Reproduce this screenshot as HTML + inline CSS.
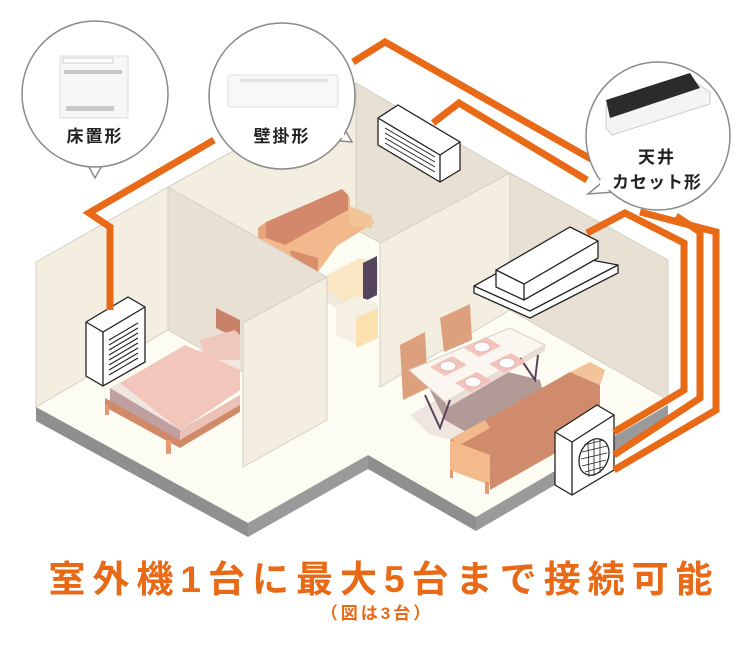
<!DOCTYPE html>
<html><head><meta charset="utf-8"><style>
body{margin:0;background:#fff;width:750px;height:650px;overflow:hidden}
svg{display:block}
.t{font-family:"Liberation Sans","Noto Sans CJK JP",sans-serif;font-weight:bold}
</style></head><body>
<svg width="750" height="650" viewBox="0 0 750 650" xmlns="http://www.w3.org/2000/svg">
<!-- floor -->
<polygon points="36,407 248,523 368,455 476,517 668,405 668,300 356,120 36,300" fill="#fdfcf3"/>
<!-- slab -->
<polygon points="36,407 248,523 248,537 36,421" fill="#8f8f8f"/>
<polygon points="248,523 368,455 368,469 248,537" fill="#9a9a9a"/>
<polygon points="368,455 476,517 476,531 368,469" fill="#8f8f8f"/>
<polygon points="476,517 668,405 668,419 476,531" fill="#9a9a9a"/>
<!-- walls -->
<polygon points="36,262 168,187 168,330 36,407" fill="#f4eee1" stroke="#d5d0c6" stroke-width="1"/>
<polygon points="168,187 356,83 356,230 168,330" fill="#f4eee1" stroke="#d5d0c6" stroke-width="1"/>
<polygon points="356,83 510,173 510,310 356,230" fill="#e8e0d2" stroke="#d5d0c6" stroke-width="1"/>
<polygon points="510,173 668,260 668,400 510,310" fill="#e8e0d2" stroke="#d5d0c6" stroke-width="1"/>
<!-- middle sofa -->
<polygon points="258,232 342,189 350,197 350,228 318,272 262,242" fill="#f3bb8c"/>
<polygon points="258,228 266,222 266,238 258,242" fill="#e8a47a"/>
<polygon points="266,222 342,189 348,195 348,210 285,245 266,238" fill="#d3886b"/>
<polygon points="285,245 348,212 375,222 318,258" fill="#f2b98d"/>
<polygon points="348,205 372,216 372,228 350,226" fill="#f3c496"/>
<polygon points="290,250 318,258 318,272 292,262" fill="#d88e6c"/>
<!-- tv area -->
<polygon points="327,275 360,258 378,262 378,290 342,305 327,295" fill="#fbe6c3"/>
<polygon points="327,290 342,300 342,312 327,302" fill="#efe9dc"/>
<polygon points="363,263 377,256 377,295 363,302" fill="#55455c"/>
<polygon points="336,306 356,296 378,303 378,335 356,344 336,335" fill="#f6efe3"/>
<polygon points="356,318 378,308 378,338 356,348" fill="#fbe0b0"/>
<!-- partition between middle and right -->
<polygon points="380,243 510,173 510,310 380,387" fill="#f4eee1" stroke="#d5d0c6" stroke-width="1"/>
<!-- left partition darker face -->
<polygon points="168,187 327,277 327,420 168,330" fill="#e8e0d2" stroke="#d5d0c6" stroke-width="1"/>
<!-- floor unit -->
<polygon points="86,322 128,297 145,307 145,362 103,386 86,376" fill="#fff" stroke="#222" stroke-width="1.3"/>
<polyline points="86,322 103,332 145,307" fill="none" stroke="#222" stroke-width="1.3"/>
<line x1="103" y1="332" x2="103" y2="386" stroke="#222" stroke-width="1.3"/>
<g stroke="#222" stroke-width="1.1">
<line x1="109" y1="340" x2="138" y2="323"/><line x1="109" y1="345" x2="138" y2="328"/><line x1="109" y1="350" x2="138" y2="333"/><line x1="109" y1="355" x2="138" y2="338"/><line x1="109" y1="360" x2="138" y2="343"/><line x1="109" y1="365" x2="138" y2="348"/><line x1="109" y1="370" x2="138" y2="353"/><line x1="109" y1="375" x2="138" y2="358"/>
</g>
<!-- bed -->
<polygon points="216,308 240,320 240,340 216,328" fill="#c8826a"/>
<polygon points="110,388 170,355 240,342 240,390 175,435 110,400" fill="#efe6e0"/>
<polygon points="200,340 235,330 240,335 240,360 205,360" fill="#f0c7bd"/>
<polygon points="120,383 185,345 240,370 240,390 180,430" fill="#f3c6bb"/>
<polygon points="110,388 180,430 180,440 110,403" fill="#c09fa1"/>
<polygon points="180,430 240,395 240,408 180,445" fill="#ebc1b8"/>
<polygon points="105,398 180,440 240,405 240,412 180,448 105,407" fill="#d08a69"/>
<rect x="105" y="405" width="4" height="10" fill="#e59a73"/>
<rect x="166" y="440" width="5" height="14" fill="#e59a73"/>
<!-- left partition front face -->
<polygon points="243,323 327,277 327,420 243,467" fill="#f4eee1" stroke="#d5d0c6" stroke-width="1"/>
<!-- dining -->
<polygon points="410,415 470,380 545,400 560,420 500,450 430,435" fill="#ede3df" opacity=".9"/>
<polygon points="430,390 480,365 540,380 545,400 480,440 445,420" fill="#b29a97"/>
<polygon points="400,345 425,332 428,388 403,400" fill="#dca07d"/>
<polygon points="440,318 470,304 472,340 444,352" fill="#dca07d"/>
<polygon points="409,370 510,328 545,345 445,402" fill="#fbf6f0" stroke="#d8cfc4" stroke-width="1"/>
<polygon points="445,402 545,345 545,351 447,408" fill="#e9ddd4"/>
<polyline points="425,395 440,428 450,400" fill="none" stroke="#5a4356" stroke-width="2"/>
<polyline points="520,358 535,380 538,355" fill="none" stroke="#5a4356" stroke-width="2"/>
<g fill="#f3c3bd"><polygon points="430,367 452,356 467,365 445,376"/><polygon points="464,348 486,337 501,346 479,357"/><polygon points="455,383 477,372 492,381 470,392"/><polygon points="489,364 511,353 526,362 504,373"/></g>
<g fill="#fff" stroke="#e0b8b2"><ellipse cx="448" cy="366" rx="8" ry="5"/><ellipse cx="482" cy="347" rx="8" ry="5"/><ellipse cx="473" cy="382" rx="8" ry="5"/><ellipse cx="507" cy="363" rx="8" ry="5"/></g>
<!-- sofa right -->
<polygon points="450,440 570,372 600,385 600,410 490,470 450,455" fill="#d08a6c"/>
<polygon points="450,440 490,455 490,470 450,455" fill="#f3bb8c"/>
<polygon points="452,438 485,420 490,428 458,446" fill="#f3bb8c"/>
<polygon points="570,372 590,362 605,370 600,385" fill="#f3c39a"/>
<polygon points="450,455 490,470 490,485 450,470" fill="#f3bb8c"/>
<polygon points="490,470 600,408 605,425 490,490" fill="#d08a6c"/>
<rect x="450" y="470" width="3" height="8" fill="#e59a73"/><rect x="485" y="482" width="4" height="12" fill="#e59a73"/>
<!-- outdoor unit -->
<polygon points="555,432 597,405 614,415 614,470 572,495 555,485" fill="#fff" stroke="#222" stroke-width="1.3"/>
<polyline points="555,432 572,442 614,415" fill="none" stroke="#222" stroke-width="1.3"/>
<line x1="572" y1="442" x2="572" y2="495" stroke="#222" stroke-width="1.3"/>
<ellipse cx="594" cy="457" rx="14" ry="19" transform="rotate(25 594 457)" fill="#fff" stroke="#222" stroke-width="1.3"/>
<g stroke="#222" stroke-width=".8"><line x1="584" y1="445" x2="604" y2="440"/><line x1="582" y1="452" x2="607" y2="446"/><line x1="581" y1="459" x2="607" y2="453"/><line x1="582" y1="466" x2="606" y2="460"/><line x1="585" y1="472" x2="603" y2="467"/><line x1="588" y1="443" x2="589" y2="477"/><line x1="594" y1="440" x2="594" y2="476"/><line x1="600" y1="439" x2="600" y2="473"/></g>
<!-- pipes -->
<g fill="none" stroke="#e86a17" stroke-width="7" stroke-linejoin="miter">
<polyline points="110,310 110,227 89,213 214,140"/>
<polyline points="353,62 385,42 598,163"/>
<polyline points="640,212 716,232 716,410 614,470"/>
<polyline points="433,123 459,103 587,180"/>
<polyline points="676,216 700,232 700,398 614,455"/>
<polyline points="587,233 625,213 684,243 684,390 614,432"/>
</g>
<!-- wall unit -->
<polygon points="378,118 398,105 460,142 460,170 440,182 378,145" fill="#fff" stroke="#222" stroke-width="1.3"/>
<polyline points="378,118 440,155 460,142" fill="none" stroke="#222" stroke-width="1.3"/>
<line x1="440" y1="155" x2="440" y2="182" stroke="#222" stroke-width="1.3"/>
<g stroke="#222" stroke-width="1"><line x1="385" y1="128" x2="435" y2="157"/><line x1="385" y1="133" x2="435" y2="162"/><line x1="385" y1="138" x2="435" y2="167"/><line x1="385" y1="143" x2="435" y2="172"/></g>
<!-- cassette -->
<polygon points="474,286 538,250 618,265 618,273 530,318 474,293" fill="#fff" stroke="#222" stroke-width="1.3"/>
<polyline points="474,286 530,311 618,265" fill="none" stroke="#222" stroke-width="1.3"/>
<polygon points="496,270 570,227 598,241 598,258 524,300 496,287" fill="#fff" stroke="#222" stroke-width="1.3"/>
<polyline points="496,270 524,284 598,241" fill="none" stroke="#222" stroke-width="1.3"/>
<line x1="524" y1="284" x2="524" y2="300" stroke="#222" stroke-width="1.3"/>
<!-- bubbles -->
<g fill="#fff" stroke="#8a8a8a" stroke-width="1.5">
<polygon points="85,160 95,178 105,160"/>
<ellipse cx="95" cy="94" rx="73" ry="73"/>
<polygon points="330,140 352,142 342,125"/>
<ellipse cx="282" cy="96" rx="73" ry="73"/>
<polygon points="605,180 588,194 615,192"/>
<ellipse cx="658" cy="136" rx="72" ry="74"/>
</g>
<g fill="#fff"><rect x="86" y="155" width="18" height="8"/><rect x="330" y="128" width="14" height="10"/><rect x="600" y="180" width="14" height="10"/></g>
<!-- bubble images -->
<rect x="60" y="56" width="68" height="62" fill="#f7f7f7" stroke="#ddd"/>
<rect x="63" y="58" width="50" height="5" fill="#fff" stroke="#ccc"/>
<rect x="64" y="70" width="58" height="4" fill="#c9c9c9"/>
<rect x="66" y="106" width="48" height="5" fill="#c9c9c9"/>
<rect x="228" y="75" width="110" height="32" rx="3" fill="#f8f8f8" stroke="#ddd"/>
<rect x="240" y="79" width="88" height="3" fill="#e3e3e3"/>
<polygon points="606,105 690,79 710,92 710,104 612,135 606,128" fill="#f4f4f4" stroke="#ccc"/>
<polygon points="606,100 690,73 700,88 610,118" fill="#2b2b2b"/>
<text class="t" x="95" y="142" font-size="17" text-anchor="middle" fill="#222" letter-spacing="2">床置形</text>
<text class="t" x="282" y="142" font-size="17" text-anchor="middle" fill="#222" letter-spacing="2">壁掛形</text>
<text class="t" x="657" y="163" font-size="17" text-anchor="middle" fill="#222" letter-spacing="2">天井</text>
<text class="t" x="657" y="188" font-size="17" text-anchor="middle" fill="#222" letter-spacing="1">カセット形</text>
<!-- title -->
<text class="t" x="384" y="592" font-size="37" text-anchor="middle" fill="#e86a17" letter-spacing="7">室外機1台に最大5台まで接続可能</text>
<text class="t" x="377" y="619" font-size="17" text-anchor="middle" fill="#e86a17" letter-spacing="3">（図は3台）</text>
</svg>
</body></html>
